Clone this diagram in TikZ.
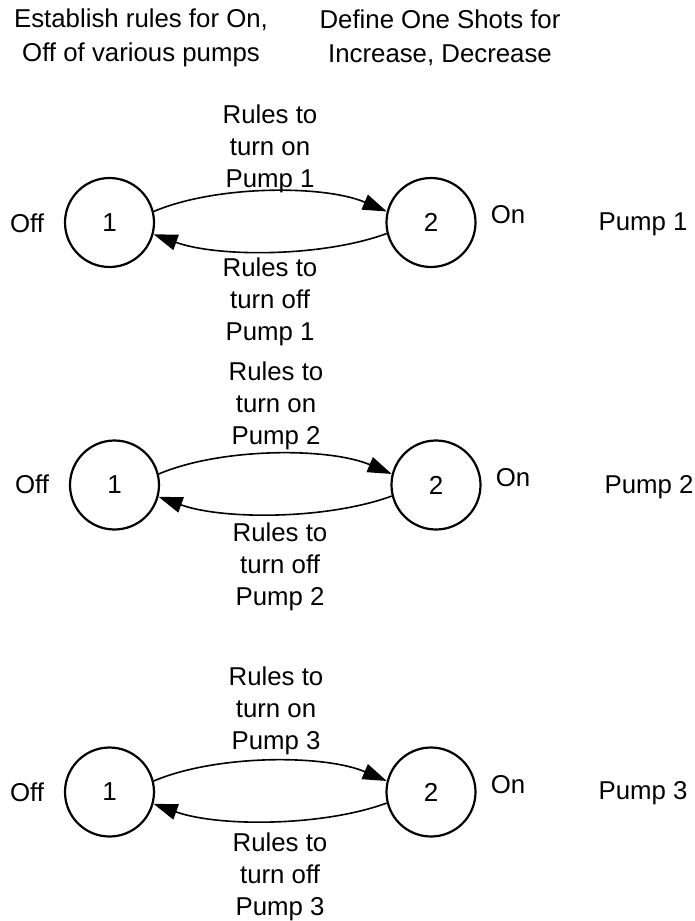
\documentclass[tikz,border=0pt]{standalone}
\usepackage{fontspec}
\setmainfont{Liberation Sans}
\usetikzlibrary{arrows.meta,positioning}

\begin{document}
\begin{tikzpicture}[x=1pt,y=1pt,
						% styles for the pump state machines
						state/.style={circle, draw, line width=2.2pt, minimum size=89pt, inner sep=0pt, font=\fontsize{26}{31}\selectfont},
						lbl/.style={inner sep=0pt, align=center, font=\fontsize{25.8}{32}\selectfont},
						headtext/.style={inner sep=0pt, align=center, font=\fontsize{25.8}{34}\selectfont},
						side/.style={inner sep=0pt, text depth=0pt, font=\fontsize{25.8}{31}\selectfont},
						trans/.style={line width=1.6pt, -{Triangle[length=24pt,width=16pt]}, looseness=0.75}
						]
						\useasboundingbox (0,0) rectangle (695,-921);
						
						% --- Headings ---
						\node[headtext] (hrules) at (141,-37.5) {Establish rules for On,\\Off of various pumps};
						\node[headtext] (hshots) at (440,-37.5) {Define One Shots for\\Increase, Decrease};
						
						% --- Pump 1 ---
						\node[state] (A1) at (109.5,-222.5) {1};
						\node[state] (B1) at (431,-222.5) {2};
						\node[side] (off1) at (27,-223) {Off};
						\node[side] (on1) at (508,-214) {On};
						\node[side] (pump1) at (643,-222) {Pump 1};
						\node[lbl] (up1) at (270,-148.5) {Rules to\\turn on\\Pump 1};
						\node[lbl] (dn1) at (270,-301.5) {Rules to\\turn off\\Pump 1};
						\draw[trans] (A1.14) to[bend left=23] (B1.166);
						\draw[trans] (B1.194) to[bend left=20] (A1.-15);
						
						% --- Pump 2 ---
						\node[state] (A2) at (114.5,-485) {1};
						\node[state] (B2) at (436,-485) {2};
						\node[side] (off2) at (32,-484) {Off};
						\node[side] (on2) at (513,-477) {On};
						\node[side] (pump2) at (649,-484) {Pump 2};
						\node[lbl] (up2) at (276,-406) {Rules to\\turn on\\Pump 2};
						\node[lbl] (dn2) at (280,-566.5) {Rules to\\turn off\\Pump 2};
						\draw[trans] (A2.14) to[bend left=23] (B2.166);
						\draw[trans] (B2.194) to[bend left=20] (A2.-15);
						
						% --- Pump 3 ---
						\node[state] (A3) at (109.5,-792) {1};
						\node[state] (B3) at (431,-792) {2};
						\node[side] (off3) at (27,-792) {Off};
						\node[side] (on3) at (508,-784) {On};
						\node[side] (pump3) at (643,-790) {Pump 3};
						\node[lbl] (up3) at (276,-711) {Rules to\\turn on\\Pump 3};
						\node[lbl] (dn3) at (280,-877) {Rules to\\turn off\\Pump 3};
						\draw[trans] (A3.14) to[bend left=23] (B3.166);
						\draw[trans] (B3.194) to[bend left=20] (A3.-15);
					\end{tikzpicture}
\end{document}
